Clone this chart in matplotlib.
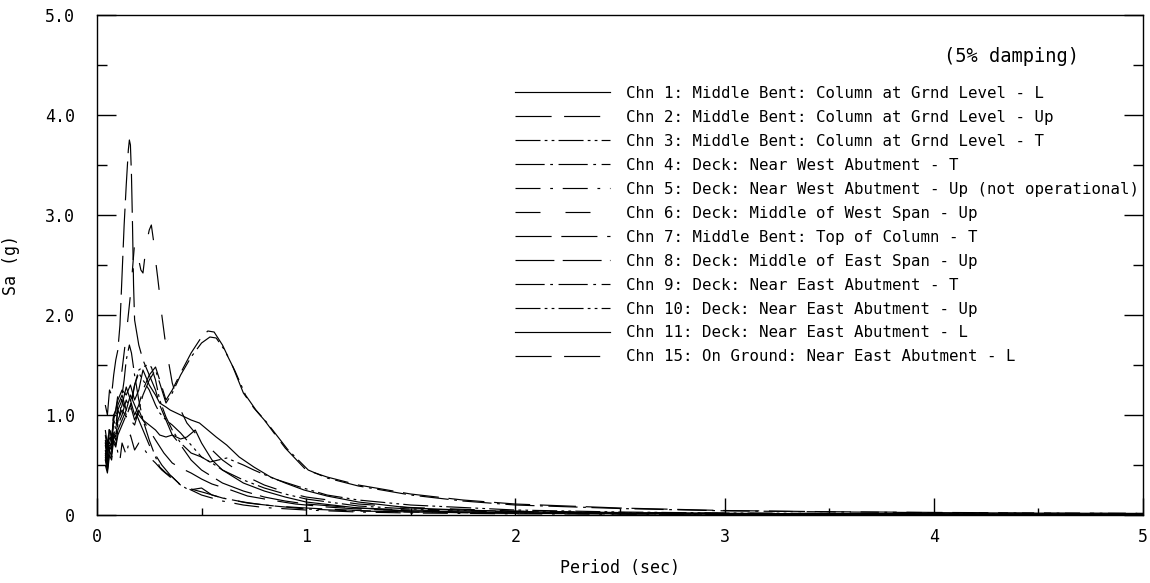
import matplotlib
matplotlib.use("Agg")
import matplotlib.pyplot as plt

# response spectra (period in sec, Sa in g)
T1 = [0.04, 0.05, 0.06, 0.07, 0.08, 0.09, 0.10, 0.12, 0.14, 0.16, 0.18, 0.20, 0.22, 0.25, 0.28, 0.30, 0.33, 0.35, 0.40,
      0.45, 0.49, 0.53, 0.57, 0.62, 0.68, 0.75, 0.83, 0.90, 0.99, 1.10, 1.25, 1.50, 1.75, 2.00, 2.50, 3.00, 4.00, 5.00]
S1 = [0.72, 0.60, 0.85, 0.78, 0.95, 1.05, 1.15, 1.25, 1.20, 1.30, 1.15, 1.25, 1.45, 1.30, 1.20, 1.12, 1.08, 1.05, 1.00,
      0.95, 0.92, 0.85, 0.78, 0.70, 0.58, 0.48, 0.38, 0.32, 0.25, 0.19, 0.13, 0.07, 0.05, 0.035, 0.022, 0.016, 0.010, 0.007]

T2 = [0.04, 0.05, 0.06, 0.07, 0.08, 0.09, 0.10, 0.12, 0.14, 0.16, 0.18, 0.20, 0.22, 0.25, 0.28, 0.32, 0.36, 0.40, 0.45,
      0.50, 0.55, 0.64, 0.72, 0.83, 0.95, 1.10, 1.25, 1.50, 2.00, 2.50, 3.00, 4.00, 5.00]
S2 = [0.50, 0.42, 0.60, 0.55, 0.72, 0.68, 0.80, 0.90, 1.00, 0.95, 0.90, 1.05, 0.95, 0.85, 0.75, 0.62, 0.52, 0.47, 0.42,
      0.36, 0.31, 0.25, 0.19, 0.15, 0.11, 0.08, 0.06, 0.04, 0.020, 0.013, 0.009, 0.006, 0.004]

T3 = [0.04, 0.05, 0.06, 0.07, 0.08, 0.09, 0.10, 0.12, 0.14, 0.16, 0.18, 0.20, 0.22, 0.25, 0.28, 0.30, 0.33, 0.36, 0.40,
      0.45, 0.50, 0.54, 0.58, 0.62, 0.70, 0.75, 0.85, 0.97, 1.10, 1.25, 1.50, 2.00, 2.50, 3.00, 4.00, 5.00]
S3 = [0.60, 0.48, 0.70, 0.62, 0.80, 0.75, 0.90, 1.00, 1.15, 1.05, 1.30, 1.42, 1.35, 1.25, 1.10, 1.02, 0.95, 0.90, 0.82,
      0.70, 0.58, 0.53, 0.55, 0.57, 0.50, 0.45, 0.36, 0.28, 0.20, 0.15, 0.10, 0.05, 0.030, 0.020, 0.012, 0.008]

T4 = [0.04, 0.05, 0.06, 0.07, 0.08, 0.09, 0.10, 0.12, 0.14, 0.16, 0.18, 0.20, 0.22, 0.25, 0.28, 0.30, 0.33, 0.36, 0.40,
      0.45, 0.50, 0.54, 0.57, 0.61, 0.66, 0.71, 0.76, 0.81, 0.91, 1.01, 1.10, 1.25, 1.50, 1.75, 2.00, 2.50, 3.00, 3.50,
      4.00, 4.50, 5.00]
S4 = [0.75, 0.62, 0.85, 0.70, 0.95, 0.90, 1.05, 1.15, 1.00, 1.10, 0.95, 1.05, 1.20, 1.35, 1.45, 1.32, 1.12, 1.22, 1.40,
      1.58, 1.72, 1.78, 1.77, 1.65, 1.44, 1.20, 1.05, 0.93, 0.66, 0.45, 0.37, 0.29, 0.20, 0.14, 0.10, 0.065, 0.042, 0.031,
      0.024, 0.019, 0.016]

T5 = [0.04, 0.05, 0.06, 0.07, 0.08, 0.09, 0.10, 0.11, 0.12, 0.14, 0.16, 0.18, 0.20, 0.22, 0.25, 0.28, 0.31, 0.35, 0.40,
      0.45, 0.50, 0.60, 0.70, 0.80, 1.00, 1.25, 1.50, 2.00, 2.50, 3.00, 4.00, 5.00]
S5 = [0.62, 0.48, 0.70, 0.60, 0.80, 0.75, 0.62, 0.55, 0.72, 0.60, 0.80, 0.65, 0.72, 0.68, 0.58, 0.52, 0.45, 0.38, 0.30,
      0.25, 0.20, 0.14, 0.10, 0.075, 0.05, 0.03, 0.02, 0.012, 0.008, 0.006, 0.004, 0.003]

T6 = [0.04, 0.05, 0.06, 0.07, 0.08, 0.09, 0.10, 0.12, 0.14, 0.16, 0.18, 0.19, 0.20, 0.21, 0.22, 0.23, 0.24, 0.25, 0.26,
      0.27, 0.28, 0.29, 0.30, 0.31, 0.33, 0.36, 0.40, 0.43, 0.47, 0.50, 0.60, 0.70, 0.80, 0.90, 1.00, 1.25, 1.50, 2.00,
      2.50, 3.00, 4.00, 5.00]
S6 = [0.85, 0.70, 0.90, 0.85, 1.00, 1.05, 1.20, 1.45, 1.80, 2.20, 2.72, 2.65, 2.55, 2.45, 2.42, 2.60, 2.75, 2.85, 2.90,
      2.75, 2.55, 2.38, 2.20, 2.00, 1.68, 1.32, 1.05, 0.92, 0.82, 0.75, 0.55, 0.40, 0.30, 0.23, 0.18, 0.11, 0.075, 0.04,
      0.025, 0.018, 0.011, 0.008]

T7 = [0.04, 0.05, 0.06, 0.07, 0.08, 0.09, 0.10, 0.12, 0.14, 0.16, 0.18, 0.20, 0.22, 0.25, 0.28, 0.30, 0.33, 0.36, 0.40,
      0.45, 0.50, 0.53, 0.56, 0.60, 0.65, 0.70, 0.75, 0.80, 0.90, 1.00, 1.10, 1.25, 1.50, 1.75, 2.00, 2.50, 3.00, 3.50,
      4.00, 4.50, 5.00]
S7 = [0.80, 0.65, 0.90, 0.75, 1.00, 0.95, 1.10, 1.20, 1.05, 1.15, 1.00, 1.10, 1.25, 1.40, 1.48, 1.35, 1.15, 1.25, 1.42,
      1.62, 1.78, 1.84, 1.83, 1.70, 1.48, 1.22, 1.07, 0.95, 0.67, 0.45, 0.38, 0.30, 0.21, 0.15, 0.11, 0.07, 0.045, 0.033,
      0.026, 0.021, 0.017]

T8 = [0.04, 0.05, 0.06, 0.07, 0.08, 0.09, 0.10, 0.11, 0.12, 0.13, 0.14, 0.15, 0.155, 0.16, 0.165, 0.17, 0.175, 0.18,
      0.20, 0.22, 0.25, 0.28, 0.30, 0.33, 0.36, 0.40, 0.45, 0.50, 0.60, 0.70, 0.80, 0.90, 1.00, 1.25, 1.50, 2.00, 2.50,
      3.00, 4.00, 5.00]
S8 = [1.10, 1.00, 1.25, 1.20, 1.40, 1.55, 1.65, 1.90, 2.40, 2.90, 3.30, 3.65, 3.75, 3.70, 3.40, 2.90, 2.30, 1.95,
      1.70, 1.55, 1.40, 1.25, 1.10, 0.95, 0.80, 0.70, 0.55, 0.45, 0.32, 0.24, 0.18, 0.14, 0.11, 0.07, 0.05, 0.03, 0.02,
      0.015, 0.010, 0.008]

T9 = [0.04, 0.05, 0.06, 0.07, 0.08, 0.09, 0.10, 0.11, 0.12, 0.13, 0.14, 0.155, 0.165, 0.18, 0.20, 0.22, 0.25, 0.28, 0.30,
      0.33, 0.36, 0.40, 0.44, 0.50, 0.55, 0.60, 0.70, 0.80, 0.90, 1.00, 1.25, 1.50, 2.00, 2.50, 3.00, 4.00, 5.00]
S9 = [0.70, 0.55, 0.80, 0.72, 0.95, 0.85, 1.05, 1.00, 1.20, 1.35, 1.55, 1.70, 1.62, 1.40, 1.15, 0.95, 0.75, 0.58, 0.48,
      0.42, 0.38, 0.30, 0.25, 0.27, 0.20, 0.17, 0.13, 0.10, 0.08, 0.06, 0.04, 0.03, 0.018, 0.012, 0.009, 0.006, 0.004]

T10 = [0.04, 0.05, 0.06, 0.07, 0.08, 0.09, 0.10, 0.12, 0.14, 0.16, 0.18, 0.20, 0.22, 0.24, 0.26, 0.28, 0.30, 0.33, 0.36,
       0.40, 0.45, 0.50, 0.55, 0.60, 0.70, 0.80, 0.90, 1.00, 1.25, 1.50, 2.00, 2.50, 3.00, 4.00, 5.00]
S10 = [0.65, 0.50, 0.75, 0.65, 0.85, 0.80, 0.95, 1.05, 0.98, 1.10, 1.30, 1.45, 1.48, 1.50, 1.48, 1.35, 1.15, 0.98, 0.85,
       0.72, 0.62, 0.58, 0.52, 0.45, 0.35, 0.27, 0.21, 0.16, 0.09, 0.06, 0.035, 0.022, 0.016, 0.010, 0.007]

T11 = [0.04, 0.05, 0.06, 0.07, 0.08, 0.09, 0.10, 0.12, 0.14, 0.16, 0.18, 0.20, 0.22, 0.25, 0.28, 0.30, 0.33, 0.36, 0.40,
       0.43, 0.47, 0.50, 0.55, 0.60, 0.70, 0.80, 0.90, 1.00, 1.25, 1.50, 2.00, 2.50, 3.00, 4.00, 5.00]
S11 = [0.55, 0.45, 0.65, 0.58, 0.75, 0.70, 0.85, 0.95, 1.05, 1.20, 1.10, 1.00, 0.95, 0.90, 0.85, 0.80, 0.78, 0.80, 0.76,
       0.78, 0.85, 0.72, 0.55, 0.45, 0.32, 0.24, 0.18, 0.13, 0.07, 0.04, 0.022, 0.015, 0.011, 0.007, 0.005]

T15 = [0.04, 0.05, 0.06, 0.07, 0.08, 0.09, 0.10, 0.12, 0.14, 0.16, 0.18, 0.20, 0.22, 0.25, 0.28, 0.31, 0.35, 0.40, 0.45,
       0.52, 0.60, 0.72, 0.85, 1.00, 1.25, 1.50, 2.00, 2.50, 3.00, 4.00, 5.00]
S15 = [0.58, 0.45, 0.68, 0.62, 0.82, 0.78, 0.95, 1.10, 1.28, 1.15, 1.05, 0.95, 0.85, 0.70, 0.60, 0.50, 0.40, 0.30, 0.26,
       0.22, 0.17, 0.12, 0.09, 0.07, 0.045, 0.03, 0.018, 0.012, 0.008, 0.005, 0.004]

labels = [
    "Chn 1: Middle Bent: Column at Grnd Level - L",
    "Chn 2: Middle Bent: Column at Grnd Level - Up",
    "Chn 3: Middle Bent: Column at Grnd Level - T",
    "Chn 4: Deck: Near West Abutment - T",
    "Chn 5: Deck: Near West Abutment - Up (not operational)",
    "Chn 6: Deck: Middle of West Span - Up",
    "Chn 7: Middle Bent: Top of Column - T",
    "Chn 8: Deck: Middle of East Span - Up",
    "Chn 9: Deck: Near East Abutment - T",
    "Chn 10: Deck: Near East Abutment - Up",
    "Chn 11: Deck: Near East Abutment - L",
    "Chn 15: On Ground: Near East Abutment - L",
]

# dash patterns in points (not scaled by line width)
styles = [
    "-",
    (0, (26, 9)),
    (0, (18, 3, 2, 3, 2, 3)),
    (0, (21, 4, 2, 4)),
    (0, (18, 7, 2, 7)),
    (0, (18, 18)),
    (0, (26, 7)),
    (0, (28, 6)),
    (0, (21, 4, 2, 4)),
    (0, (18, 3, 2, 3, 2, 3)),
    "-",
    (0, (26, 9)),
]

periods = [T1, T2, T3, T4, T5, T6, T7, T8, T9, T10, T11, T15]
spectra = [S1, S2, S3, S4, S5, S6, S7, S8, S9, S10, S11, S15]

plt.rcParams["font.family"] = ["DejaVu Sans Mono"]
plt.rcParams["lines.scale_dashes"] = False

fig = plt.figure(figsize=(11.5, 5.83), dpi=100)
ax = fig.add_axes([0.0843, 0.1166, 0.9096, 0.8577])

for T, S, ls, lab in zip(periods, spectra, styles, labels):
    ax.plot(T, S, color="black", linewidth=0.85, linestyle=ls, label=lab)

ax.set_xlim(0, 5)
ax.set_ylim(0, 5)

ax.set_xticks([0, 1, 2, 3, 4, 5])
ax.set_xticklabels(["0", "1", "2", "3", "4", "5"])
ax.set_xticks([0.5, 1.5, 2.5, 3.5, 4.5], minor=True)
ax.set_yticks([0, 1, 2, 3, 4, 5])
ax.set_yticklabels(["0", "1.0", "2.0", "3.0", "4.0", "5.0"])
ax.set_yticks([0.5, 1.5, 2.5, 3.5, 4.5], minor=True)

ax.tick_params(axis="x", which="major", direction="in", length=12, width=1, labelsize=12, pad=9)
ax.tick_params(axis="x", which="minor", direction="in", length=5, width=1)
ax.tick_params(axis="y", which="major", direction="in", length=14, width=1, labelsize=12, pad=16,
               right=True)
ax.tick_params(axis="y", which="minor", direction="in", length=7, width=1, right=True)
for sp in ax.spines.values():
    sp.set_linewidth(1.0)

ax.set_xlabel("Period (sec)", fontsize=12, labelpad=10)
ax.set_ylabel("Sa (g)", fontsize=12, labelpad=18)

ax.text(0.874, 0.916, "(5% damping)", transform=ax.transAxes, fontsize=13.5, ha="center", va="center")

ax.legend(loc="upper left", bbox_to_anchor=(0.3996, 0.858), frameon=False, fontsize=11.3,
          handlelength=6.05, handletextpad=1.05, labelspacing=0.57, borderpad=0, borderaxespad=0)

fig.savefig("out.png", dpi=100)
